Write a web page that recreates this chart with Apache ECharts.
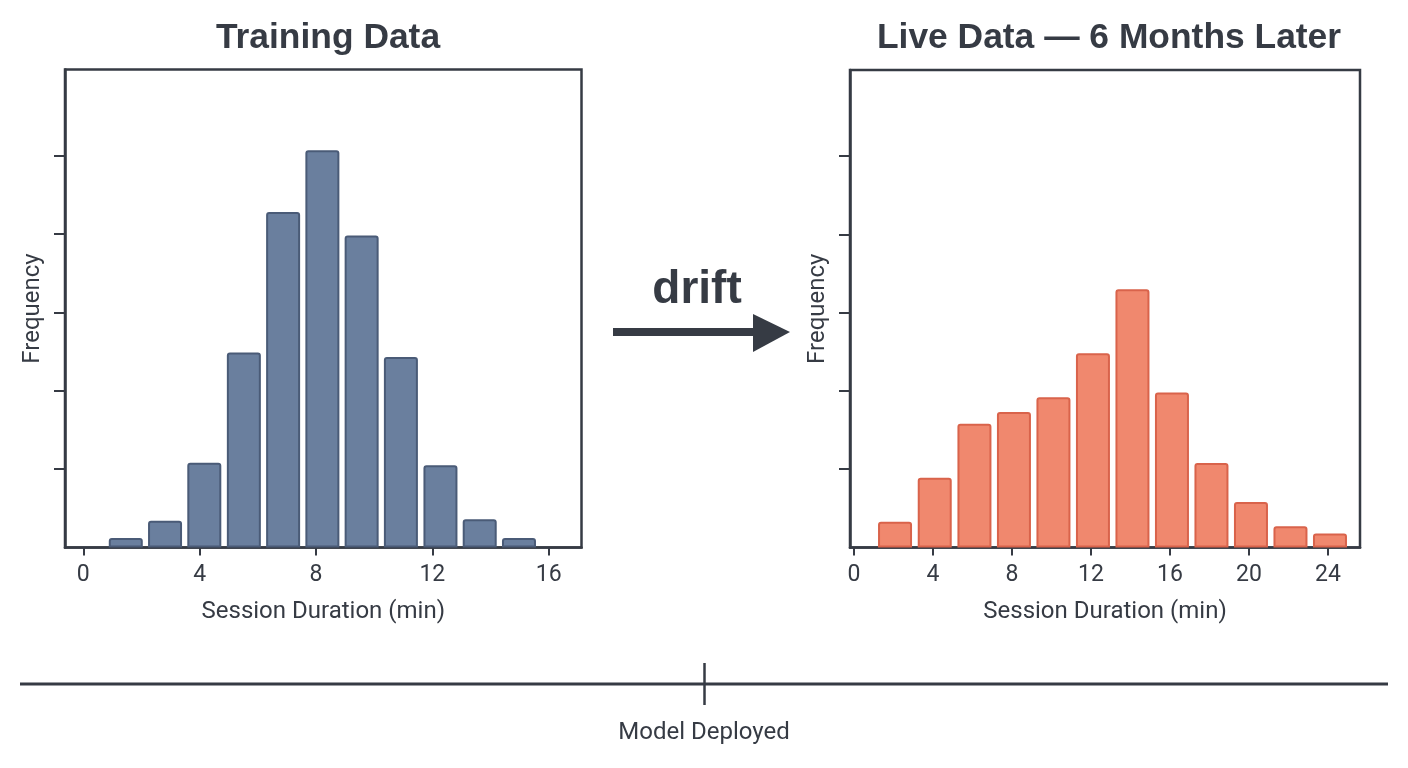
<!DOCTYPE html>
<html><head><meta charset="utf-8">
<script src="https://cdn.jsdelivr.net/npm/echarts@6/dist/echarts.min.js"></script>
<style>html,body{margin:0;padding:0;background:#fff}#c{width:1408px;height:768px}</style>
</head><body><div id="c"></div>
<script>
// Training data histogram (bin centers in minutes, relative frequency)
const trainCenters = [1.46, 2.81, 4.16, 5.52, 6.87, 8.22, 9.57, 10.92, 12.28, 13.63, 14.98];
const trainFreq    = [0.12, 0.34, 1.08, 2.49, 4.28, 5.07, 3.98, 2.43, 1.05, 0.36, 0.12];
// Live data histogram
const liveCenters = [2.08, 4.09, 6.1, 8.1, 10.1, 12.1, 14.1, 16.1, 18.1, 20.1, 22.1, 24.1];
const liveFreq    = [0.33, 0.89, 1.58, 1.73, 1.92, 2.48, 3.30, 1.98, 1.08, 0.58, 0.27, 0.18];
const trainTicks = [0, 4, 8, 12, 16];
const liveTicks  = [0, 4, 8, 12, 16, 20, 24];
const yTicks = [1, 2, 3, 4, 5];

const ink = '#363b44';
const labelFont = 'Roboto';
const boldFont = '"Liberation Sans", Arial, sans-serif';

function xAxis(idx, min, max, ticks) {
  return {
    type: 'value', gridIndex: idx, min: min, max: max,
    name: 'Session Duration (min)', nameLocation: 'middle', nameGap: 52,
    nameTextStyle: {fontFamily: labelFont, fontSize: 24, color: ink},
    splitLine: {show: false},
    axisLine: {show: true, onZero: false, lineStyle: {color: ink, width: 2.5}},
    axisTick: {show: true, length: 8, lineStyle: {color: ink, width: 2}, customValues: ticks},
    axisLabel: {fontFamily: labelFont, fontSize: 23, color: ink, margin: 16, customValues: ticks}
  };
}
function yAxis(idx) {
  return {
    type: 'value', gridIndex: idx, min: 0, max: 6.1,
    name: 'Frequency', nameLocation: 'middle', nameGap: 20, nameRotate: 90,
    nameTextStyle: {fontFamily: labelFont, fontSize: 24, color: ink},
    splitLine: {show: false},
    axisLine: {show: true, onZero: false, lineStyle: {color: ink, width: 2.5}},
    axisTick: {show: true, length: 11, lineStyle: {color: ink, width: 2}, customValues: yTicks},
    axisLabel: {show: false}
  };
}

const chart = echarts.init(document.getElementById('c'), null, {renderer: 'canvas'});
chart.setOption({
  backgroundColor: '#ffffff',
  animation: false,
  title: [
    {text: 'Training Data', left: 323, top: 16, textAlign: 'center',
     textStyle: {fontFamily: boldFont, fontWeight: 'bold', fontSize: 35.4, color: ink}},
    {text: 'Live Data \u2014 6 Months Later', left: 1104, top: 16, textAlign: 'center',
     textStyle: {fontFamily: boldFont, fontWeight: 'bold', fontSize: 35.4, color: ink}}
  ],
  grid: [
    {left: 65, right: 826.5, top: 69.5, bottom: 220.5, show: true, borderColor: ink, borderWidth: 2.5, backgroundColor: 'transparent'},
    {left: 850, right: 48, top: 70, bottom: 220.5, show: true, borderColor: ink, borderWidth: 2.5, backgroundColor: 'transparent'}
  ],
  xAxis: [xAxis(0, -0.63, 17.13, trainTicks), xAxis(1, -0.2, 25.62, liveTicks)],
  yAxis: [yAxis(0), yAxis(1)],
  series: [
    {type: 'bar', xAxisIndex: 0, yAxisIndex: 0, barWidth: 34,
     data: trainCenters.map((c, i) => [c, trainFreq[i]]),
     itemStyle: {color: '#6a7f9e', borderColor: '#4a5b77', borderWidth: 2, borderRadius: [2, 2, 0, 0]}},
    {type: 'bar', xAxisIndex: 1, yAxisIndex: 1, barWidth: 34,
     data: liveCenters.map((c, i) => [c, liveFreq[i]]),
     itemStyle: {color: '#f0886e', borderColor: '#d9634b', borderWidth: 2, borderRadius: [2, 2, 0, 0]}}
  ],
  graphic: [
    {type: 'text', x: 697, y: 290, style: {text: 'drift', fontFamily: boldFont, fontWeight: 'bold', fontSize: 46, fill: ink, textAlign: 'center', textVerticalAlign: 'middle'}},
    {type: 'rect', shape: {x: 613, y: 328, width: 145, height: 8}, style: {fill: ink}},
    {type: 'polygon', shape: {points: [[753, 314], [790, 332], [753, 352]]}, style: {fill: ink}},
    {type: 'line', shape: {x1: 20, y1: 684, x2: 1388, y2: 684}, style: {stroke: ink, lineWidth: 3}},
    {type: 'line', shape: {x1: 704.5, y1: 663, x2: 704.5, y2: 705}, style: {stroke: ink, lineWidth: 2.5}},
    {type: 'text', x: 704, y: 733, style: {text: 'Model Deployed', fontFamily: labelFont, fontSize: 24, fill: ink, textAlign: 'center', textVerticalAlign: 'middle'}}
  ]
});
</script></body></html>
